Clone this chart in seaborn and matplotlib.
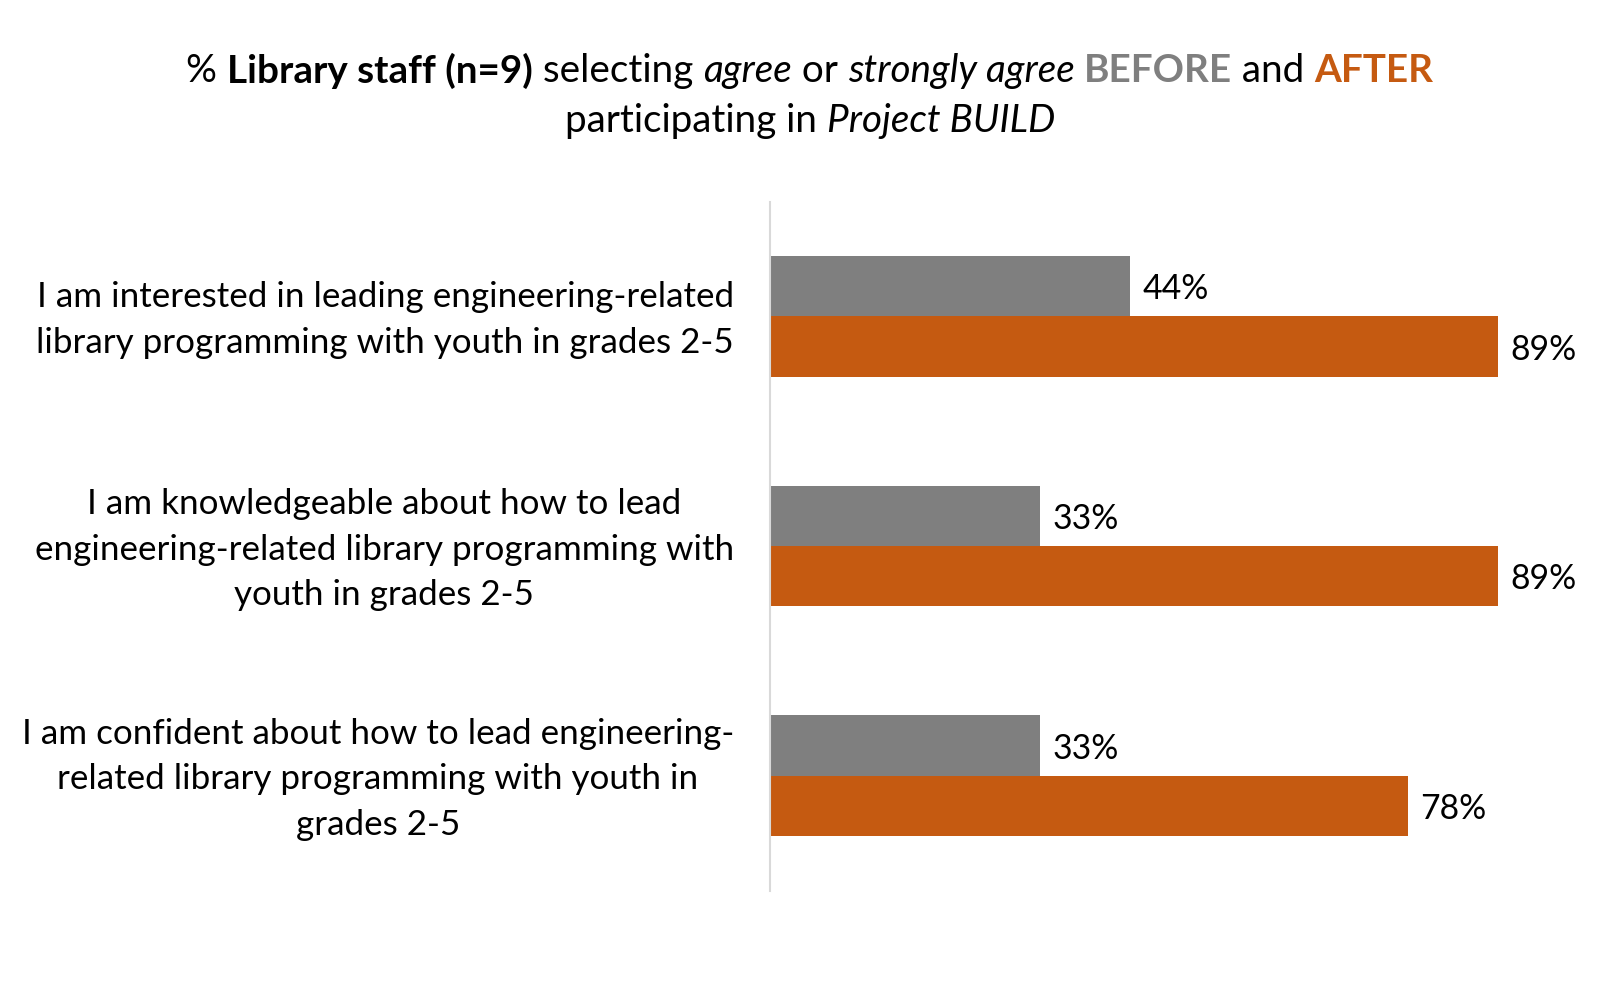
import matplotlib
matplotlib.use("Agg")
import matplotlib.pyplot as plt
import matplotlib.transforms as mtransforms
import seaborn as sns
import pandas as pd

# ---- data ----
statements = [
    "I am interested in leading engineering-related\nlibrary programming with youth in grades 2-5",
    "I am knowledgeable about how to lead\nengineering-related library programming with\nyouth in grades 2-5",
    "I am confident about how to lead engineering-\nrelated library programming with youth in\ngrades 2-5",
]
periods = ["BEFORE", "AFTER"]
before_pct = [44, 33, 33]
after_pct = [89, 89, 78]

GRAY = "#7F7F7F"
ORANGE = "#C55A11"
FONT = "Lato"

df = pd.DataFrame({
    "statement": statements * 2,
    "period": [periods[0]] * 3 + [periods[1]] * 3,
    "value": before_pct + after_pct,
})

sns.set_theme(style="white")
plt.rcParams["font.family"] = [FONT, "DejaVu Sans"]

W, H = 1620, 1005
fig = plt.figure(figsize=(W / 100, H / 100), dpi=100)
ax = fig.add_axes([770 / W, 1 - 890.6 / H, (1588 - 770) / W, (890.6 - 201.5) / H])

sns.barplot(data=df, y="statement", x="value", hue="period", hue_order=periods,
            order=statements, palette=[GRAY, ORANGE], orient="h", width=0.526,
            dodge=True, saturation=1, legend=False, ax=ax)
for p in ax.patches:
    p.set_edgecolor("none")
    p.set_linewidth(0)

ax.set_xlim(0, 100)
ax.set_ylim(2.5, -0.5)
ax.set_xlabel("")
ax.set_ylabel("")
ax.set_xticks([])
for s in ["top", "right", "bottom"]:
    ax.spines[s].set_visible(False)
ax.spines["left"].set_color("#D9D9D9")
ax.spines["left"].set_linewidth(1.5)

LABEL_SIZE = 25.2
ax.set_yticks(range(len(statements)))
ax.set_yticklabels(statements, fontsize=LABEL_SIZE, color="black",
                   multialignment="center", linespacing=1.52)
ax.tick_params(axis="y", length=0, pad=26)
shift = mtransforms.ScaledTranslation(0, 4.5 / 72, fig.dpi_scale_trans)
for lbl in ax.get_yticklabels():
    lbl.set_transform(lbl.get_transform() + shift)

for cont, vals in zip(ax.containers, [before_pct, after_pct]):
    txts = ax.bar_label(cont, labels=[f"{v}%" for v in vals], padding=9,
                        fontsize=24.3, color="black")
    for t in txts:
        t.set_va("center_baseline")

# ---- title with mixed styles ----
renderer = fig.canvas.get_renderer()
TS = 27.8
line1 = [
    ("% ", "normal", "normal", "black"),
    ("Library staff (n=9)", "bold", "normal", "black"),
    (" selecting ", "normal", "normal", "black"),
    ("agree", "normal", "italic", "black"),
    (" or ", "normal", "normal", "black"),
    ("strongly agree", "normal", "italic", "black"),
    (" ", "normal", "normal", "black"),
    ("BEFORE", "bold", "normal", GRAY),
    (" and ", "normal", "normal", "black"),
    ("AFTER", "bold", "normal", ORANGE),
]
line2 = [
    ("participating in ", "normal", "normal", "black"),
    ("Project BUILD", "normal", "italic", "black"),
]


def draw_line(pieces, yc):
    texts = []
    for s, wt, st, col in pieces:
        t = fig.text(0, yc, s.replace(" ", "\u00a0"), fontsize=TS, fontweight=wt,
                     fontstyle=st, color=col, va="center", ha="left")
        texts.append(t)
    widths = [t.get_window_extent(renderer).width for t in texts]
    total = sum(widths)
    x = W / 2 - total / 2
    for t, w in zip(texts, widths):
        t.set_x(x / W)
        x += w


draw_line(line1, 1 - 71 / H)
draw_line(line2, 1 - 121 / H)

fig.savefig("out.png", dpi=100, facecolor="white")
